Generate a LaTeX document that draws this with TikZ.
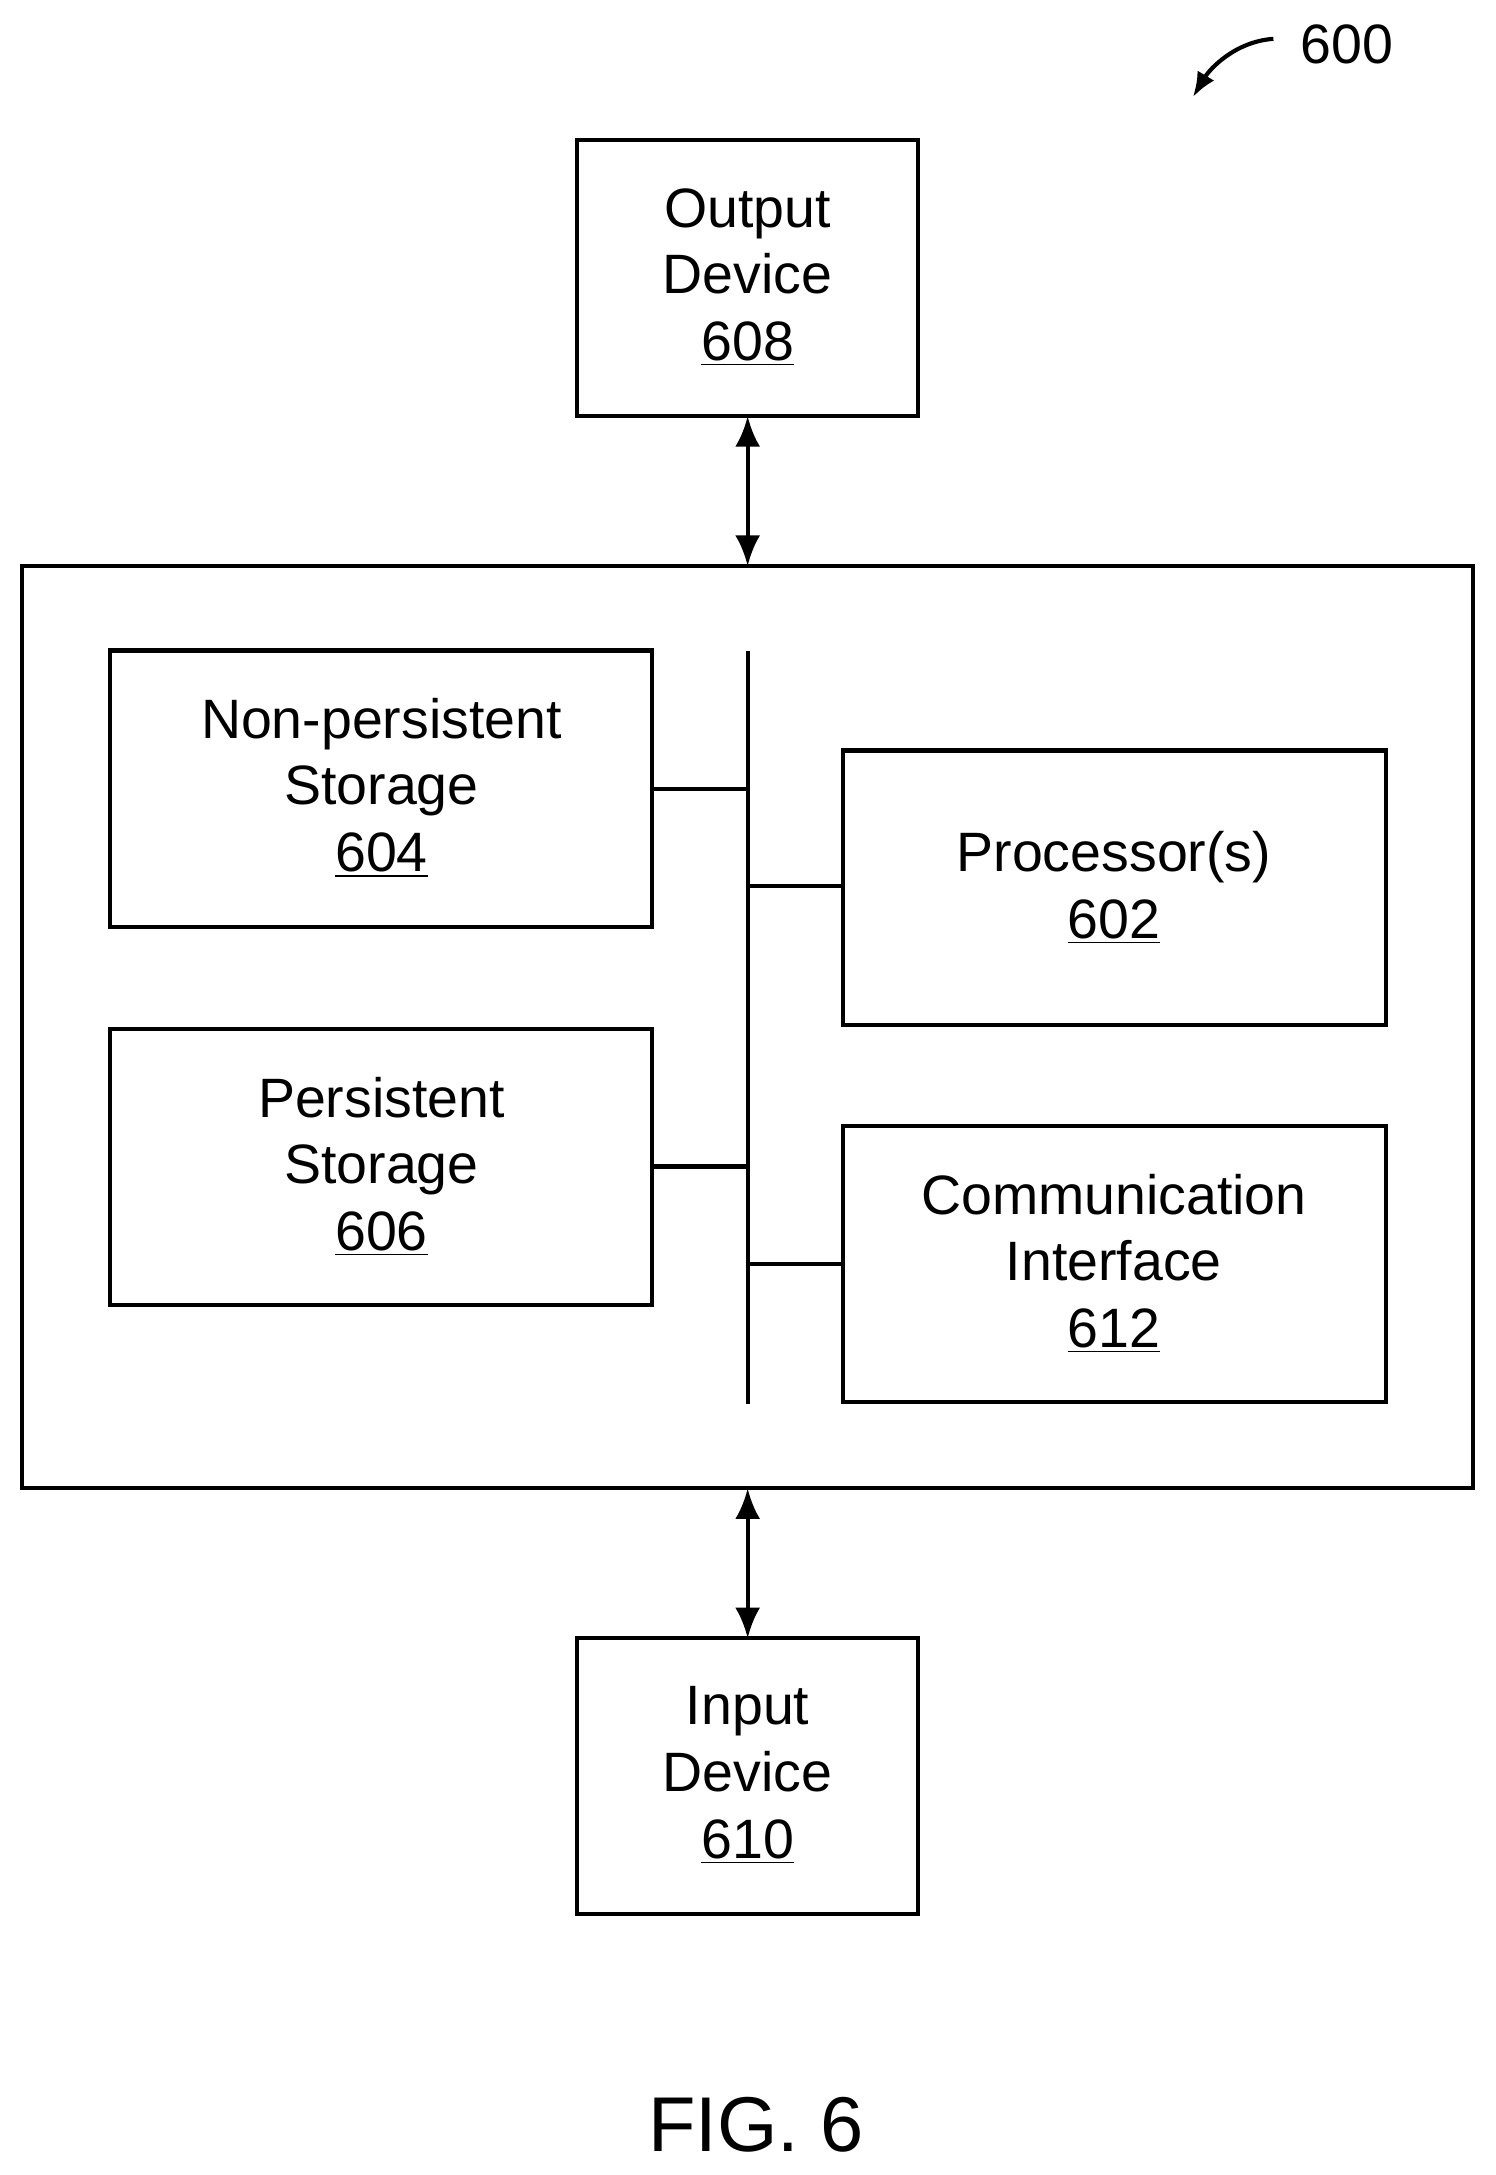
\documentclass[tikz,border=0pt]{standalone}
\usepackage{fontspec}
\setmainfont{Liberation Sans}
\usetikzlibrary{arrows.meta}
\begin{document}
\begin{tikzpicture}[x=0.5pt,y=-0.5pt,line width=1.5pt,
  box/.style={draw,minimum width=0pt,inner sep=0pt},
  lbl/.style={align=center,font=\fontsize{20}{24}\selectfont},
  arr/.style={{Latex[length=11pt,width=9pt]}-{Latex[length=11pt,width=9pt]}}]
\useasboundingbox (0,0) rectangle (1078,1568);
\draw (416,101) rectangle (662,300);
\node[lbl] (out) at (539,200) {Output\\Device\\\underline{608}};
\coordinate (outb) at (539,300);
\draw (16,408) rectangle (1062,1073);
\coordinate (maint) at (539,408);
\coordinate (mainb) at (539,1073);
\draw (79,469) rectangle (470,668);
\node[lbl] (np) at (275,568) {Non-persistent\\Storage\\\underline{604}};
\draw (79,742) rectangle (470,941);
\node[lbl] (ps) at (275,841) {Persistent\\Storage\\\underline{606}};
\draw (608,541) rectangle (999,739);
\node[lbl] (pr) at (803,640) {Processor(s)\\\underline{602}};
\draw (608,812) rectangle (999,1011);
\node[lbl] (ci) at (803,911) {Communication\\Interface\\\underline{612}};
\draw (416,1181) rectangle (662,1380);
\node[lbl] (in) at (539,1280) {Input\\Device\\\underline{610}};
\coordinate (inb) at (539,1181);
\coordinate (bt) at (539,469);
\coordinate (bb) at (539,1012);
\draw (bt) -- (bb);
\draw (470,569) -- (539,569);
\draw (470,841) -- (539,841);
\draw (539,639) -- (608,639);
\draw (539,911) -- (608,911);
\draw[arr] (outb) -- (maint);
\draw[arr] (mainb) -- (inb);
\node[font=\fontsize{20}{24}\selectfont] (n600) at (971,32) {600};
\coordinate (a600) at (860,70);
\draw[-{Latex[length=9pt,width=7pt]}] (918,28) .. controls (890,30) and (872,50) .. (a600);
\node[font=\fontsize{28}{32}\selectfont] (fig) at (545,1532) {FIG. 6};
\end{tikzpicture}
\end{document}
